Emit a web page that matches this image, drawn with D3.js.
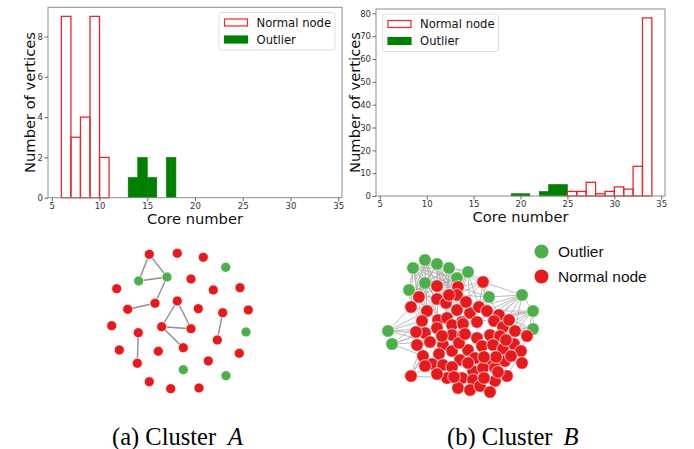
<!DOCTYPE html>
<html>
<head>
<meta charset="utf-8">
<script src="https://cdn.jsdelivr.net/npm/d3@7"></script>
<style>body{margin:0;background:#fff;}</style>
</head>
<body>
<div id="fig"></div>
<script>

// histogram values (bin start, width 1)
var binsA_normal = [6, 7, 8, 9, 10];
var countA_normal = [9, 3, 4, 9, 2];
var binsA_outlier = [13, 14, 15, 17];
var countA_outlier = [1, 2, 1, 2];

var binsB_normal = [25, 26, 27, 28, 29, 30, 31, 32, 33];
var countB_normal = [2, 2, 6, 1, 2, 4, 3, 13, 78];
var binsB_outlier = [19, 20, 22, 23, 24];
var countB_outlier = [1, 1, 2, 5, 5];

var xTicks = [5, 10, 15, 20, 25, 30, 35];
var yTicksA = [0, 2, 4, 6, 8];
var yTicksB = [0, 10, 20, 30, 40, 50, 60, 70, 80];
var legendLabels = ["Normal node", "Outlier"];
var captions = [["(a) Cluster", "A"], ["(b) Cluster", "B"]];

// cluster A layout (layout units)
var redA = [[44.3,9.3],[72.3,8.3],[98.3,12.3],[11.7,43.7],[86,34],[108.3,45],[135,42.7],
  [50,58.3],[22.7,64.3],[72.3,56],[93.3,63.7],[117.7,67.7],[143.3,65],[6.7,80.7],[33.3,87.7],
  [56.7,81.7],[86,83.7],[112.3,95],[14.3,105],[53.3,106.3],[78.3,102.7],[134.3,108.3],
  [32.3,118.3],[103.3,116],[44.3,136.7],[65.7,143.7],[94,143]];
var greenA = [[33.7,36],[62,32],[120.7,22.3],[141,87],[78.3,124.7],[121,130.7]];
var edgesA = ["r0-g0","r0-g1","g0-g1","g1-r7","r7-r8","r9-r15","r9-r16","r15-r16",
  "r15-r20","r11-r17","r14-r22"];

// cluster B layout (layout units)
var greenB = [[33,18],[45,10],[57,14],[69,18],[88,22],[77,28],[45,33],[29,40],
  [109,47],[142,45],[153,61],[153,79],[8,81],[12,94]];
var redB = [[103,32],[57,36],[78,37],[39,47],[57,49],[66,53],[77,45],[31,57],[47,61],
  [77,60],[90,63],[99,57],[107,61],[119,65],[42,71],[58,70],[67,68],[82,72],[97,72],
  [114,71],[45,83],[57,78],[72,75],[83,74],[123,77],[135,81],[147,86],[72,85],[83,85],
  [97,88],[110,85],[120,86],[50,92],[63,95],[88,100],[102,96],[113,95],[123,99],[134,94],
  [141,101],[43,106],[59,104],[72,101],[80,110],[95,108],[107,110],[125,111],[142,113],
  [52,114],[63,115],[72,117],[93,121],[103,118],[115,118],[127,126],[31,126],[67,128],
  [82,128],[93,130],[115,131],[78,138],[90,140],[100,136],[110,142],[104,128],[116,107],
  [86,52],[126,90],[62,86],[79,93],[131,106],[88,113],[57,124],[118,122],[104,107],
  [37,95],[36,82],[69,45],[129,70],[85,84],[45,116],[74,127]];
var edgesB = ["g0-g1","g0-g2","g0-g3","g0-g5","g0-g6","g0-g7","g1-g2","g1-g3","g1-g5",
  "g1-g6","g2-g3","g2-g5","g2-g6","g2-g4","g3-g4","g3-g5","g3-g6","g4-g5","g5-g6","g6-g7",
  "g1-r2","g0-r2","g2-r3","g3-r3","g3-r7","g4-r7","g4-r1","g5-r2","g5-r5","g6-r4","g7-r4",
  "g7-r8","g0-r4","g2-r5","g1-r7","g3-r2","g6-r5","g4-r3","g5-r6","g0-r5","g1-r4","g2-r7",
  "g7-r9","g6-r9","g0-r15","g1-r8","g7-r15","g4-g8","g4-r12","r1-g8","r1-r3","r1-r7",
  "r1-r12","r1-r13","r1-r10","g8-r11","g8-r10","g8-r12","g8-r14","g8-r3","g8-r7","g8-g9",
  "g8-r18","g9-r14","g9-r13","g9-r25","g9-r20","g9-g10","g9-r26","g9-r12","g10-r14",
  "g10-r25","g10-r26","g10-r27","g10-r20","g10-g11","g10-r13","g11-r26","g11-r25",
  "g11-r32","g11-r20","g11-r39","g11-r14","g12-r15","g12-r21","g12-r9","g12-r33","g12-r8",
  "g12-g13","g13-r21","g13-r33","g13-r15","g13-r41","r56-r41","r56-r49","r56-r33",
  "r56-r57","r56-r21","r8-r9","r8-r15","r9-r16","r4-r9","r10-r18","r11-r19","r12-r20",
  "r16-r23","r22-r28","r29-r30","r33-r42","r34-r43","r44-r52","r45-r53","r57-r61",
  "r58-r62","r59-r63","r60-r64","r49-r57","r50-r61","r35-r44","r36-r46","r37-r54",
  "r38-r47","r39-r48","r40-r55","r47-r55","r41-r49","r42-r50","r31-r37","r24-r29",
  "r17-r23","r6-r10","r5-r16","r7-r11","r3-r11","r13-r20","r14-r25","r19-r30","r18-r24",
  "r21-r33","r15-r21","r26-r39","r27-r40","r2-r5","r6-r17","r10-r24","r3-r10",
  "g0-r8","g1-r5","g2-r2","g3-r6","g4-r2","g5-r7","g6-r2","g7-r5","g6-r8","g0-r9",
  "g1-r9","g2-r4","g3-r4","g5-r4","g4-r6","g2-r6","g3-r5","g1-r3","g0-r3","g6-r3",
  "g7-r2","g5-r10","g2-r10","g0-r16","g1-r16","g6-r16","g7-r16","g3-r17","g2-r17",
  "g5-r17","g4-r10","g4-r11","g3-r10","g1-r6","g0-r6","g7-r6","g7-r3","g6-r7",
  "g9-r1","g9-r19","g10-r19","g10-r32","g11-r31","g11-r37","g12-r22","g13-r22"];

var W = 694, H = 449;
var RED = "#e8272b", GREEN = "#008000";
var NODE_RED = "#e41a1c", NODE_GREEN = "#4daf4a";

var svg = d3.select("#fig").append("svg")
    .attr("width", W)
    .attr("height", H);

svg.append("rect").attr("width", W).attr("height", H).attr("fill", "#fff");

function drawHist(opt){

  var x = d3.scaleLinear().domain([4.6, 35.4]).range([opt.left, opt.right]);
  var y = d3.scaleLinear().domain([0, opt.ymax]).range([opt.bottom, opt.top]);
  var g = svg.append("g");

  g.selectAll(".outl").data(opt.outBins).enter().append("rect")
      .attr("x", function(d){ return x(d); })
      .attr("width", function(d){ return x(d + 1) - x(d); })
      .attr("y", function(d, i){ return y(opt.outCounts[i]); })
      .attr("height", function(d, i){ return y(0) - y(opt.outCounts[i]); })
      .attr("fill", GREEN)
      .attr("stroke", GREEN)
      .attr("stroke-width", 0.6);

  g.selectAll(".norm").data(opt.normBins).enter().append("rect")
      .attr("x", function(d){ return x(d); })
      .attr("width", function(d){ return x(d + 1) - x(d); })
      .attr("y", function(d, i){ return y(opt.normCounts[i]); })
      .attr("height", function(d, i){ return y(0) - y(opt.normCounts[i]); })
      .attr("fill", "none")
      .attr("stroke", RED)
      .attr("stroke-width", 1.3);

  g.append("rect")
      .attr("x", opt.left)
      .attr("y", opt.top)
      .attr("width", opt.right - opt.left)
      .attr("height", opt.bottom - opt.top)
      .attr("fill", "none")
      .attr("stroke", "#8c8c8c")
      .attr("stroke-width", 1);

  var ax = g.append("g")
      .attr("transform", "translate(0," + opt.bottom + ")")
      .call(d3.axisBottom(x).tickValues(xTicks).tickSize(3.5).tickPadding(1.5));
  var ay = g.append("g")
      .attr("transform", "translate(" + opt.left + ",0)")
      .call(d3.axisLeft(y).tickValues(opt.yTicks).tickSize(3.5).tickPadding(1.5));

  [ax, ay].forEach(function(a){
    a.select(".domain").remove();
    a.selectAll("line").attr("stroke", "#666");
    a.selectAll("text")
        .attr("fill", "#333")
        .style("font-family", "DejaVu Sans")
        .style("font-size", "8.5px");
  });

  g.append("text")
      .text("Core number")
      .attr("x", (opt.left + opt.right) / 2)
      .attr("y", opt.bottom + 26)
      .attr("text-anchor", "middle")
      .style("font-family", "DejaVu Sans")
      .style("font-size", "14.7px")
      .style("fill", "#111");

  g.append("text")
      .text("Number of vertices")
      .attr("transform", "translate(" + opt.ylabX + "," + ((opt.top + opt.bottom) / 2) + ") rotate(-90)")
      .attr("text-anchor", "middle")
      .style("font-family", "DejaVu Sans")
      .style("font-size", "14.7px")
      .style("fill", "#111");

  var lg = g.append("g").attr("transform", "translate(" + opt.legX + "," + opt.legY + ")");
  lg.append("rect")
      .attr("width", 116)
      .attr("height", 37.5)
      .attr("rx", 2.5)
      .attr("fill", "#fff")
      .attr("fill-opacity", 0.85)
      .attr("stroke", "#d6d6d6")
      .attr("stroke-width", 0.8);

  lg.selectAll(".patch").data(legendLabels).enter().append("rect")
      .attr("x", 5.5)
      .attr("y", function(d, i){ return 6.5 + i * 17; })
      .attr("width", 23)
      .attr("height", 7)
      .attr("fill", function(d, i){ return i == 0 ? "#fff" : GREEN; })
      .attr("stroke", function(d, i){ return i == 0 ? RED : GREEN; })
      .attr("stroke-width", 1.2);

  lg.selectAll(".lab").data(legendLabels).enter().append("text")
      .text(function(d){ return d; })
      .attr("x", 37.5)
      .attr("y", function(d, i){ return 14 + i * 17; })
      .style("font-family", "DejaVu Sans")
      .style("font-size", "11.6px")
      .style("fill", "#111");
}

drawHist({left: 48, right: 342, top: 7.3, bottom: 197.7, ymax: 9.45,
  yTicks: yTicksA, normBins: binsA_normal, normCounts: countA_normal,
  outBins: binsA_outlier, outCounts: countA_outlier,
  ylabX: 35, legX: 219, legY: 12.5});

drawHist({left: 376, right: 665, top: 9, bottom: 196, ymax: 81.9,
  yTicks: yTicksB, normBins: binsB_normal, normCounts: countB_normal,
  outBins: binsB_outlier, outCounts: countB_outlier,
  ylabX: 359.5, legX: 382.5, legY: 14});


function drawGraph(opt){

  var gx = d3.scaleLinear().domain([0, opt.size]).range([opt.x0, opt.x0 + opt.size]);
  var gy = d3.scaleLinear().domain([0, opt.size]).range([opt.y0, opt.y0 + opt.size]);

  function pos(id){
    var arr = id[0] == "g" ? opt.green : opt.red;
    var k = +id.slice(1) - opt.redBase * (id[0] == "r" ? 1 : 0);
    return arr[k];
  }

  var g = svg.append("g");

  g.selectAll(".edge").data(opt.edges).enter().append("line")
      .attr("x1", function(d){ return gx(pos(d.split("-")[0])[0]); })
      .attr("y1", function(d){ return gy(pos(d.split("-")[0])[1]); })
      .attr("x2", function(d){ return gx(pos(d.split("-")[1])[0]); })
      .attr("y2", function(d){ return gy(pos(d.split("-")[1])[1]); })
      .attr("stroke", opt.edgeColor)
      .attr("stroke-width", opt.edgeWidth);

  g.selectAll(".gn").data(opt.green).enter().append("circle")
      .attr("cx", function(d){ return gx(d[0]); })
      .attr("cy", function(d){ return gy(d[1]); })
      .attr("r", opt.r)
      .attr("fill", NODE_GREEN)
      .attr("stroke", "#fff")
      .attr("stroke-width", 0.7);

  g.selectAll(".rn").data(opt.red).enter().append("circle")
      .attr("cx", function(d){ return gx(d[0]); })
      .attr("cy", function(d){ return gy(d[1]); })
      .attr("r", opt.r)
      .attr("fill", NODE_RED)
      .attr("stroke", "#fff")
      .attr("stroke-width", 0.7);
}

drawGraph({x0: 105, y0: 245, size: 150, red: redA, green: greenA, edges: edgesA,
  redBase: 0, r: 5, edgeColor: "#8f8f8f", edgeWidth: 1.4});

drawGraph({x0: 380, y0: 250, size: 160, red: redB, green: greenB, edges: edgesB,
  redBase: 1, r: 6.3, edgeColor: "#ababab", edgeWidth: 0.8});

// legend of cluster B
var legB = svg.append("g").attr("transform", "translate(541.5,251.5)");
legB.selectAll("circle").data(["Outlier", "Normal node"]).enter().append("circle")
    .attr("cx", 0)
    .attr("cy", function(d, i){ return i * 25; })
    .attr("r", 7)
    .attr("fill", function(d, i){ return i == 0 ? NODE_GREEN : NODE_RED; });
legB.selectAll("text").data(["Outlier", "Normal node"]).enter().append("text")
    .text(function(d){ return d; })
    .attr("x", 16.5)
    .attr("y", function(d, i){ return i * 25 + 5.5; })
    .style("font-family", "Liberation Sans")
    .style("font-size", "15.5px")
    .style("fill", "#111");

// captions
var capX = [112, 447], capMathX = [228, 563.5];
captions.forEach(function(c, i){
  svg.append("text")
      .text(c[0])
      .attr("x", capX[i])
      .attr("y", 444.5)
      .style("font-family", "Liberation Serif")
      .style("font-size", "24.5px")
      .style("fill", "#000");
  svg.append("text")
      .text(c[1])
      .attr("x", capMathX[i])
      .attr("y", 444.5)
      .style("font-family", "Liberation Serif")
      .style("font-style", "italic")
      .style("font-size", "24.5px")
      .style("fill", "#000");
});

</script>
</body>
</html>
